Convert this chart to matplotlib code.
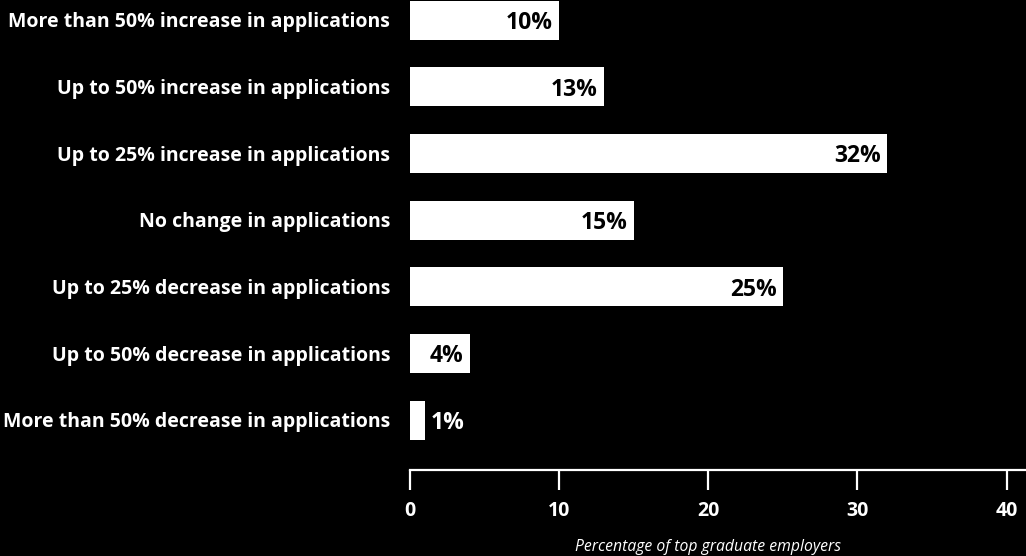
import matplotlib
matplotlib.use("Agg")
import matplotlib.pyplot as plt

categories = [
    "More than 50% increase in applications",
    "Up to 50% increase in applications",
    "Up to 25% increase in applications",
    "No change in applications",
    "Up to 25% decrease in applications",
    "Up to 50% decrease in applications",
    "More than 50% decrease in applications",
]
values = [10, 13, 32, 15, 25, 4, 1]
xticks = [0, 10, 20, 30, 40]
xlabel = "Percentage of top graduate employers"

plt.rcParams["font.family"] = ["Open Sans", "DejaVu Sans"]

W, H = 1026, 556
fig = plt.figure(figsize=(W / 100, H / 100), dpi=100, facecolor="black")
ax = fig.add_axes([410 / W, 86 / H, 616 / W, 470 / H], facecolor="black")

pos = list(range(len(categories)))
ax.barh(pos, values, height=0.585, color="white", edgecolor="none")

ax.set_xlim(0, 41.3)
ax.set_ylim(6.75, -0.3)

for p, v in zip(pos, values):
    if v >= 3:
        ax.text(v - 0.4, p, f"{v}%", ha="right", va="center_baseline",
                color="black", fontsize=16.5, fontweight="bold")
    else:
        ax.text(v + 0.4, p, f"{v}%", ha="left", va="center_baseline",
                color="white", fontsize=16.5, fontweight="bold")

ax.set_yticks(pos)
ax.set_yticklabels(categories)
ax.tick_params(axis="y", length=0, pad=14.4, labelcolor="white",
               labelsize=14)
for lbl in ax.get_yticklabels():
    lbl.set_fontweight("bold")

ax.set_xticks(xticks)
ax.set_xticklabels([str(t) for t in xticks])
ax.tick_params(axis="x", direction="out", length=14.4, width=1.6,
               color="white", pad=8, labelcolor="white", labelsize=14)
for lbl in ax.get_xticklabels():
    lbl.set_fontweight("bold")

for side in ["top", "right", "left"]:
    ax.spines[side].set_visible(False)
ax.spines["bottom"].set_color("white")
ax.spines["bottom"].set_linewidth(1.6)

ax.text(20, -(547 - 470) / 470, xlabel, transform=ax.get_xaxis_transform(),
        ha="center", va="center", color="white", fontsize=11.3,
        fontstyle="italic")

fig.savefig("out.png", dpi=100, facecolor="black")
